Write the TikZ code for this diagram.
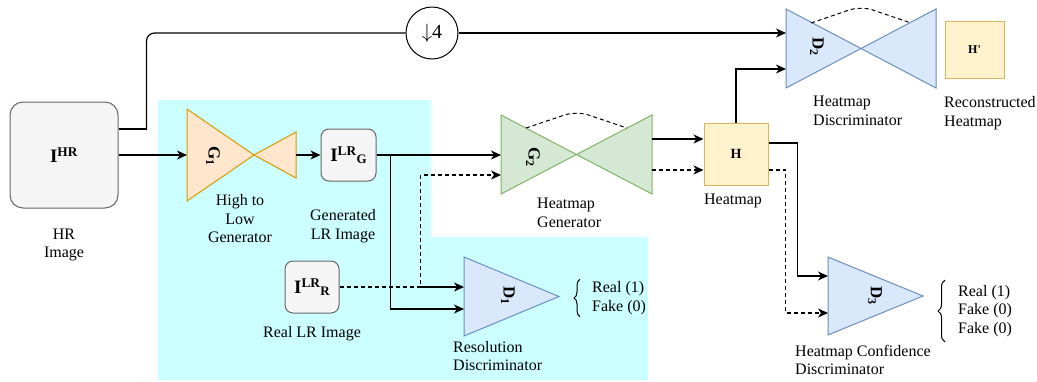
\documentclass[tikz,border=0pt]{standalone}
\usepackage{fontspec}
\setmainfont{Liberation Serif}
\usetikzlibrary{arrows.meta,positioning,calc,decorations.pathreplacing}
\definecolor{bgcyan}{HTML}{CCFFFF}
\definecolor{boxfill}{HTML}{F5F5F5}
\definecolor{boxline}{HTML}{666666}
\definecolor{genfill}{HTML}{FFE6CC}
\definecolor{genline}{HTML}{D79B00}
\definecolor{hgfill}{HTML}{D5E8D4}
\definecolor{hgline}{HTML}{82B366}
\definecolor{disfill}{HTML}{DAE8FC}
\definecolor{disline}{HTML}{6C8EBF}
\definecolor{hmfill}{HTML}{FFF2CC}
\definecolor{hmline}{HTML}{D6B656}
\newcommand{\lrsub}[1]{I\textsuperscript{LR}\raisebox{-1.5pt}{\fontsize{13}{14}\selectfont #1}}

\begin{document}
\begin{tikzpicture}[x=1pt,y=-1pt,
    font=\fontsize{16}{18.5}\selectfont,
    img/.style={rectangle,rounded corners=8pt,draw=boxline,fill=boxfill,line width=1pt,inner sep=0pt,font=\fontsize{19}{22}\selectfont\bfseries},
    hmap/.style={rectangle,draw=hmline,fill=hmfill,line width=1pt,inner sep=0pt,font=\fontsize{14}{16}\selectfont\bfseries},
    hull/.style={rectangle,inner sep=0pt,outer sep=0pt},
    gen/.style={fill=genfill,draw=genline,line width=1pt},
    hgen/.style={fill=hgfill,draw=hgline,line width=1pt},
    disc/.style={fill=disfill,draw=disline,line width=1pt},
    tag/.style={rotate=-90,inner sep=0pt,font=\fontsize{17}{20}\selectfont\bfseries},
    lblc/.style={align=center,inner sep=0pt},
    lbll/.style={align=left,inner sep=0pt,anchor=west},
    wire/.style={line width=1.2pt},
    conn/.style={line width=1.2pt,-{Stealth[length=10pt,width=9pt,inset=3pt]}},
    dconn/.style={conn,dash pattern=on 4pt off 3pt},
    skip/.style={line width=1pt,dash pattern=on 4pt off 3pt,rounded corners=12pt},
    brc/.style={decorate,decoration={brace,amplitude=6pt},line width=1pt}]
  \useasboundingbox (0,0) rectangle (1037,381);
  % shaded blocks
  \fill[bgcyan] (158,100) -- (431,100) -- (431,237) -- (648,237) -- (648,380) -- (158,380) -- cycle;

  % images
  \node[img,rounded corners=13pt,minimum width=108pt,minimum height=106pt] (hr) at (64,155) {I\textsuperscript{HR}};
  \node[img,minimum width=55pt,minimum height=52pt] (ilrg) at (348.5,155) {\lrsub{G}};
  \node[img,minimum width=54pt,minimum height=52pt] (ilrr) at (312,287) {\lrsub{R}};
  \node[circle,draw,line width=1pt,minimum size=52pt,inner sep=0pt,font=\fontsize{20}{24}\selectfont] (ds) at (432,33) {$\big\downarrow$4};

  % generators and discriminators
  \node[hull,minimum width=109pt,minimum height=92pt] (g1) at (241.5,155) {};
  \filldraw[gen] (g1.north west) -- ([xshift=67pt]g1.west) -- (g1.south west) -- cycle;
  \filldraw[gen] ([xshift=67pt]g1.west) -- ([yshift=23pt]g1.east) -- ([yshift=-23pt]g1.east) -- cycle;
  \node[tag] (g1t) at (213,156) {G\textsubscript{1}};

  \node[hull,minimum width=151pt,minimum height=79pt] (g2) at (576.5,154.5) {};
  \filldraw[hgen] (g2.north west) -- (g2.center) -- (g2.south west) -- cycle;
  \filldraw[hgen] (g2.center) -- (g2.north east) -- (g2.south east) -- cycle;
  \node[tag] (g2t) at (533,157) {G\textsubscript{2}};

  \node[hull,minimum width=150pt,minimum height=79pt] (d2) at (861,48.5) {};
  \filldraw[disc] (d2.north west) -- (d2.center) -- (d2.south west) -- cycle;
  \filldraw[disc] (d2.center) -- (d2.north east) -- (d2.south east) -- cycle;
  \node[tag] (d2t) at (817,47) {D\textsubscript{2}};

  \node[hull,minimum width=95pt,minimum height=79pt] (d1) at (511.5,296.5) {};
  \filldraw[disc] (d1.north west) -- (d1.east) -- (d1.south west) -- cycle;
  \node[tag] (d1t) at (508,296) {D\textsubscript{1}};

  \node[hull,minimum width=95pt,minimum height=78pt] (d3) at (875.5,296) {};
  \filldraw[disc] (d3.north west) -- (d3.east) -- (d3.south west) -- cycle;
  \node[tag] (d3t) at (875,296) {D\textsubscript{3}};

  % heatmaps
  \node[hmap,minimum width=64pt,minimum height=62pt] (hm) at (736,154) {H};
  \node[hmap,minimum width=59pt,minimum height=57pt,font=\fontsize{12}{14}\selectfont\bfseries] (hp) at (974.5,49.5) {H\textquotesingle};

  % captions
  \node[lblc] (hrcap) at (64,245) {HR\\Image};
  \node[lblc] (g1cap) at (240,219) {High to\\Low\\Generator};
  \node[lblc] (ilrgcap) at (343,226) {Generated\\LR Image};
  \node[lblc] (ilrrcap) at (312,334) {Real LR Image};
  \node[lbll] (d1cap) at (453,356) {Resolution\\Discriminator};
  \node[lbll] (g2cap) at (537,213) {Heatmap\\Generator};
  \node[lblc] (hmcap) at (733,201) {Heatmap};
  \node[lbll] (d2cap) at (813,111) {Heatmap\\Discriminator};
  \node[lbll] (hpcap) at (944,113) {Reconstructed\\Heatmap};
  \node[lbll] (d3cap) at (795,360) {Heatmap Confidence\\Discriminator};
  \node[lbll] (d1out) at (592,298) {Real (1)\\Fake (0)};
  \node[lbll] (d3out) at (958,311) {Real (1)\\Fake (0)\\Fake (0)};
  \draw[brc] ([xshift=-12pt,yshift=-2pt]d1out.south west) -- ([xshift=-12pt,yshift=2pt]d1out.north west);
  \draw[brc,decoration={amplitude=7pt}] ([xshift=-13pt,yshift=-5pt]d3out.south west) -- ([xshift=-13pt,yshift=5pt]d3out.north west);

  % connections
  \draw[conn] (hr) -- (g1);
  \draw[wire] ([yshift=26pt]hr.east) -- ++(28,0) coordinate (tap);
  \draw[wire,rounded corners=8pt] (tap) |- (ds);
  \draw[conn] (ds) -- (ds -| d2.west);
  \draw[conn] (g1) -- (ilrg);
  \draw[conn] (ilrg.east) -- (ilrg.east -| g2.west);
  \draw[conn] (ilrg.east) -- ++(14,0) |- ([yshift=-12.5pt]d1.west);
  \draw[dconn] (ilrr.east) -- ++(81,0) coordinate (fork) |- ([yshift=-20.5pt]g2.west);
  \draw[conn] (fork) -- (fork -| d1.west);
  \draw[conn] ([yshift=15pt]hm.west -| g2.east) -- ([yshift=15pt]hm.west);
  \draw[dconn] ([yshift=-16pt]hm.west -| g2.east) -- ([yshift=-16pt]hm.west);
  \draw[conn] (hm.north) |- ([yshift=-20.5pt]d2.west);
  \draw[conn] ([yshift=11pt]hm.east) -- ++(29,0) |- ([yshift=20pt]d3.west);
  \draw[dconn] ([yshift=-16pt]hm.east) -- ++(17,0) |- ([yshift=-17pt]d3.west);
  \draw[skip] ([shift={(25pt,-13pt)}]g2.north west) -- ([yshift=4pt]g2.north) -- ([shift={(-25pt,-13pt)}]g2.north east);
  \draw[skip] ([shift={(25pt,-14pt)}]d2.north west) -- ([yshift=3pt]d2.north) -- ([shift={(-25pt,-14pt)}]d2.north east);
\end{tikzpicture}
\end{document}
